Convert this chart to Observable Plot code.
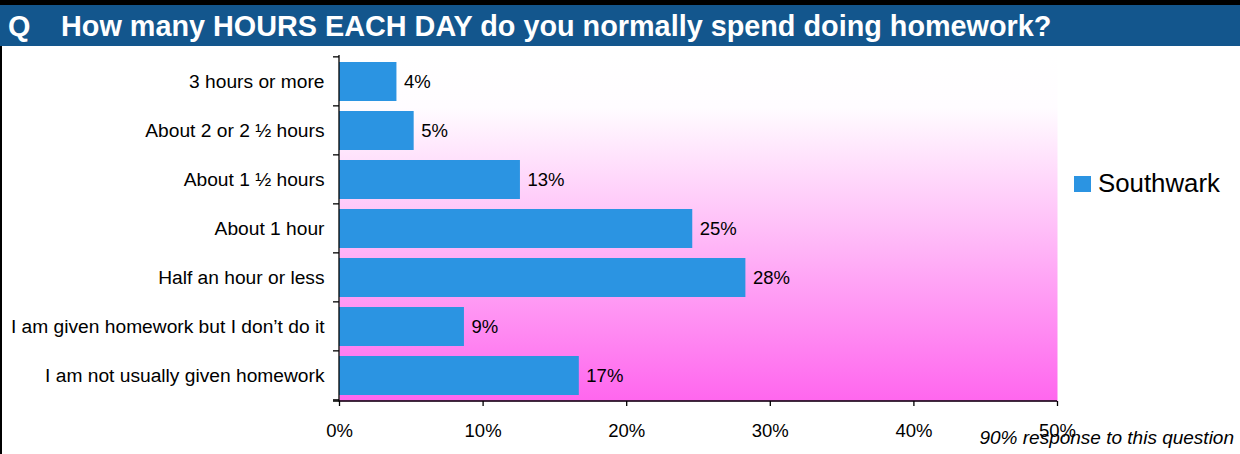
<!DOCTYPE html>
<html>
<head>
<meta charset="utf-8">
<script src="https://cdn.jsdelivr.net/npm/d3@7"></script>
<script src="https://cdn.jsdelivr.net/npm/@observablehq/plot@0.6"></script>
<style>
  html, body { margin: 0; padding: 0; background: #fff; }
  #wrap { position: relative; width: 1240px; height: 454px; overflow: hidden; font-family: "Liberation Sans", Arial, sans-serif; color: #000; }
  #topstrip { position: absolute; left: 0; top: 0; width: 1240px; height: 5px; background: #000; }
  #titlebar { position: absolute; left: 0; top: 5px; width: 1240px; height: 41px; background: #13568d; color: #fff; font-weight: bold; font-size: 28.8px; }
  #titlebar .q { position: absolute; left: 8px; top: 5px; }
  #titlebar .t { position: absolute; left: 61px; top: 5px; white-space: nowrap; }
  #leftborder { position: absolute; left: 0; top: 46px; width: 2px; height: 408px; background: #000; }
  #chart { position: absolute; left: 0; top: 46px; }
  #legend { position: absolute; left: 1074px; top: 169px; font-size: 25.8px; white-space: nowrap; }
  #legend .sw { display: inline-block; width: 17px; height: 16px; background: #2b94e2; vertical-align: baseline; margin-right: 7px; }
  #note { position: absolute; right: 6px; top: 427px; font-size: 19px; font-style: italic; white-space: nowrap; }
</style>
</head>
<body>
<div id="wrap">
  <div id="topstrip"></div>
  <div id="titlebar"><span class="q">Q</span><span class="t" id="title"></span></div>
  <div id="leftborder"></div>
  <div id="chart"></div>
  <div id="legend"><span class="sw"></span><span id="series"></span></div>
  <div id="note"></div>
</div>
<script>
const titleText = "How many HOURS EACH DAY do you normally spend doing homework?";
const seriesName = "Southwark";
const noteText = "90% response to this question";
const categories = [
  "3 hours or more",
  "About 2 or 2 ½ hours",
  "About 1 ½ hours",
  "About 1 hour",
  "Half an hour or less",
  "I am given homework but I don’t do it",
  "I am not usually given homework"
];
const values = [4.0, 5.2, 12.6, 24.6, 28.3, 8.7, 16.7];
const valueLabels = ["4%", "5%", "13%", "25%", "28%", "9%", "17%"];
const xTicks = [0, 10, 20, 30, 40, 50];

document.getElementById("title").textContent = titleText;
document.getElementById("series").textContent = seriesName;
document.getElementById("note").textContent = noteText;

const rows = categories.map((c, i) => ({category: c, value: values[i], label: valueLabels[i]}));
const barColor = "#2b94e2";
const pInner = 0.21;

const axisLines = (index, scales, values_, dims) => {
  const {x, y} = scales;
  const g = d3.create("svg:g").attr("stroke", "#000").attr("fill", "none");
  const x0 = x(0);
  const top = dims.marginTop;
  const bottom = dims.height - dims.marginBottom;
  const ys = categories.map(c => y(c));
  const step = ys[1] - ys[0];
  const half = step * pInner / 2;
  const bounds = ys.map(v => v - half).concat([ys[ys.length - 1] + step - half]);
  g.append("line").attr("x1", x0).attr("x2", x0).attr("y1", top).attr("y2", bottom + 0.5).attr("stroke-width", 1.3);
  g.append("line").attr("x1", x0 - 6).attr("x2", x(50)).attr("y1", bottom).attr("y2", bottom).attr("stroke-width", 1.3);
  for (const b of bounds) {
    g.append("line").attr("x1", x0 - 6).attr("x2", x0).attr("y1", b).attr("y2", b).attr("stroke-width", 1.3);
  }
  return g.node();
};

const chart = Plot.plot({
  width: 1240,
  height: 408,
  marginTop: 9,
  marginBottom: 53,
  marginLeft: 339,
  marginRight: 183,
  style: {fontFamily: "'Liberation Sans', Arial, sans-serif", color: "#000", background: "transparent"},
  x: {domain: [0, 50]},
  y: {domain: categories, paddingInner: pInner, paddingOuter: pInner / 2},
  marks: [
    Plot.frame({fill: "url(#bggrad)", stroke: null}),
    Plot.barX(rows, {x: "value", y: "category", fill: barColor}),
    Plot.text(rows, {x: "value", y: "category", text: "label", textAnchor: "start", dx: 7, fontSize: 18.5, fill: "#000"}),
    axisLines,
    Plot.axisY({tickSize: 0, tickPadding: 15, fontSize: 19.2, label: null}),
    Plot.axisX({ticks: xTicks, tickFormat: d => d + "%", tickSize: 5, tickPadding: 17, fontSize: 18.5, label: null, stroke: "#000", strokeWidth: 1.3})
  ]
});

d3.select(chart).insert("defs", ":first-child").html(
  '<linearGradient id="bggrad" x1="0" y1="0" x2="0" y2="1">' +
  '<stop offset="0" stop-color="#ffffff"/>' +
  '<stop offset="0.15" stop-color="#fffcff"/>' +
  '<stop offset="1" stop-color="#ff66ee"/>' +
  '</linearGradient>'
);
document.getElementById("chart").appendChild(chart);
</script>
</body>
</html>
